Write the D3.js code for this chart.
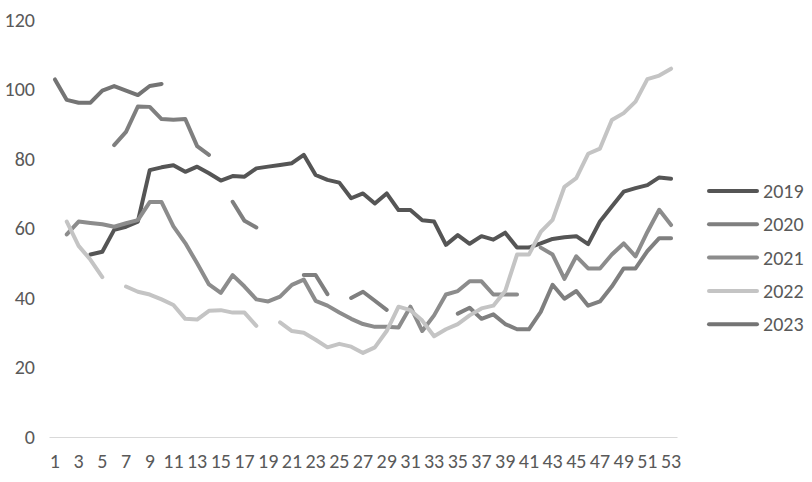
<!DOCTYPE html>
<html>
<head>
<meta charset="utf-8">
<script src="https://cdnjs.cloudflare.com/ajax/libs/d3/7.8.5/d3.min.js"></script>
<style>
  body { margin: 0; background: #fff; }
  .axis text { font-family: Carlito, "Liberation Sans", sans-serif; fill: #595959; }
</style>
</head>
<body>
<div id="chart"></div>
<script>
// weeks 1..53 and the yearly series (null = no data that week)
var weeks = d3.range(1, 54);
var yTicks = [0, 20, 40, 60, 80, 100, 120];
var years = ["2019", "2020", "2021", "2022", "2023"];
var colors = ["#555555", "#7f7f7f", "#8c8c8c", "#c4c4c4", "#747474"];

var s2019 = [null, null, null, 52.5, 53.3, 59.6, 60.5, 62, 76.8, 77.6,
  78.2, 76.3, 77.8, 75.9, 73.8, 75.1, 74.9, 77.3, 77.8, 78.3,
  78.8, 81.2, 75.4, 74, 73.2, 68.7, 70.1, 67.2, 70.1, 65.3,
  65.3, 62.4, 62, 55.3, 58.1, 55.6, 57.8, 56.8, 58.8, 54.5,
  54.5, 55.7, 57, 57.5, 57.8, 55.5, 62, 66.3, 70.6, 71.6,
  72.5, 74.7, 74.3];
var s2020 = [null, null, null, null, null, 84, 87.8, 95.1, 95, 91.5,
  91.3, 91.5, 83.7, 81.2, null, 67.7, 62.2, 60.3, null, null,
  null, 46.6, 46.6, 41.1, null, 40, 41.8, 39.2, 36.6, null,
  null, null, null, null, 35.5, 37.2, 34, 35.3, 32.5, 31,
  31, 36, 43.8, 39.8, 42, 37.8, 39, 43.3, 48.5, 48.5,
  53.5, 57.2, 57.2];
var s2021 = [null, 58.3, 62, 61.6, 61.2, 60.5, 61.5, 62.4, 67.6, 67.6,
  60.6, 55.8, 50, 43.9, 41.5, 46.6, 43.3, 39.6, 39, 40.4,
  43.8, 45.3, 39.2, 37.8, 35.8, 34, 32.5, 31.7, 31.7, 31.5,
  37.5, 30.5, 35, 41, 42, 44.8, 44.8, 41, 41, 41,
  null, 54.5, 52.5, 45.5, 52, 48.5, 48.5, 52.5, 55.7, 52,
  59, 65.4, 61];
var s2022 = [null, 62, 55, 51, 46, null, 43.3, 41.8, 41, 39.6,
  38, 34, 33.8, 36.3, 36.5, 35.8, 35.8, 32, null, 33,
  30.5, 30, 28, 25.8, 26.8, 26, 24.2, 25.8, 30.5, 37.5,
  36.5, 33.5, 29, 31, 32.5, 35, 37, 37.8, 42, 52.5,
  52.5, 59, 62.5, 72, 74.5, 81.5, 83, 91.2, 93.2, 96.5,
  103, 104, 106];
var s2023 = [102.9, 97, 96.2, 96.2, 99.7, 101, 99.7, 98.4, 101, 101.6];

var seriesValues = [s2019, s2020, s2021, s2022, s2023];

// set the dimensions of the graph
var width = 812, height = 482;
var plot = {left: 49, right: 677, top: 20, bottom: 437};

var svg = d3.select("#chart")
  .append("svg")
  .attr("width", width)
  .attr("height", height);

// x scale: one band per week
var x = d3.scaleBand()
  .domain(weeks)
  .range([plot.left, plot.right]);

var y = d3.scaleLinear()
  .domain([0, 120])
  .range([plot.bottom, plot.top]);

// y axis labels, no line
var yAxis = svg.append("g")
  .attr("class", "axis")
  .attr("transform", "translate(" + (plot.left - 14) + ",0)")
  .call(d3.axisLeft(y).tickValues(yTicks).tickSize(0).tickPadding(0));
yAxis.select(".domain").remove();
yAxis.selectAll("text").style("font-size", "20px");

// x axis with odd week labels
var xAxis = svg.append("g")
  .attr("class", "axis")
  .attr("transform", "translate(0," + plot.bottom + ")")
  .call(d3.axisBottom(x)
    .tickValues(weeks.filter(function(d) { return d % 2 == 1; }))
    .tickSize(0)
    .tickSizeOuter(0)
    .tickPadding(17));
xAxis.select(".domain").attr("stroke", "#d9d9d9").attr("stroke-width", 1.2);
xAxis.selectAll("text").style("font-size", "20px");

// line generator, gaps where data is missing
var line = d3.line()
  .defined(function(d) { return d.v != null; })
  .x(function(d) { return x(d.w) + x.bandwidth() / 2; })
  .y(function(d) { return y(d.v); });

years.forEach(function(yr, i) {
  var pts = seriesValues[i].map(function(v, j) { return {w: weeks[j], v: v}; });
  svg.append("path")
    .datum(pts)
    .attr("fill", "none")
    .attr("stroke", colors[i])
    .attr("stroke-width", 4)
    .attr("stroke-linejoin", "round")
    .attr("stroke-linecap", "round")
    .attr("d", line);
});

// legend
var legend = svg.append("g")
  .attr("class", "axis")
  .attr("transform", "translate(707,191)");

years.forEach(function(yr, i) {
  var g = legend.append("g").attr("transform", "translate(0," + (i * 33.3) + ")");
  g.append("line")
    .attr("x1", 2).attr("x2", 50)
    .attr("stroke", colors[i])
    .attr("stroke-width", 4)
    .attr("stroke-linecap", "round");
  g.append("text")
    .attr("x", 56)
    .attr("dy", "0.35em")
    .style("font-size", "20px")
    .text(yr);
});
</script>
</body>
</html>
